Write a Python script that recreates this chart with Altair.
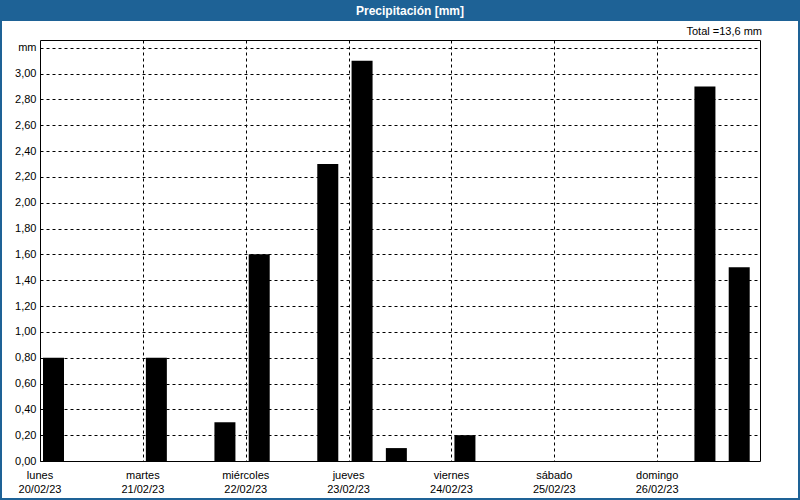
import altair as alt
import pandas as pd

# Data: 8-hour slots (start hour from Monday 00:00) and precipitation (mm)
slot_hours = [0, 24, 40, 48, 64, 72, 80, 96, 152, 160]
precip = [0.8, 0.8, 0.3, 1.6, 2.3, 3.1, 0.1, 0.2, 2.9, 1.5]

day_names = ["lunes", "martes", "miércoles", "jueves", "viernes", "sábado", "domingo"]
day_dates = ["20/02/23", "21/02/23", "22/02/23", "23/02/23", "24/02/23", "25/02/23", "26/02/23"]
day_hours = [0, 24, 48, 72, 96, 120, 144]

y_ticks = [0.0, 0.2, 0.4, 0.6, 0.8, 1.0, 1.2, 1.4, 1.6, 1.8, 2.0, 2.2, 2.4, 2.6, 2.8, 3.0, 3.2]

total = sum(precip)
total_text = "Total =" + f"{total:.1f}".replace(".", ",") + " mm"

FONT = "Liberation Sans"
BLUE = "#1e6296"
W, H = 720, 421

bars_df = pd.DataFrame({"h": slot_hours, "v": precip})
bars_df["h0"] = bars_df["h"] + 0.7
bars_df["h1"] = bars_df["h"] + 5.6

days_df = pd.DataFrame({"h": day_hours, "label": [f"{n}\n{d}" for n, d in zip(day_names, day_dates)]})

xscale = alt.Scale(domain=[0, 168], nice=False, zero=False)
yscale = alt.Scale(domain=[0, 3.26], nice=False)

ylabel = "datum.value > 3.1 ? 'mm' : replace(format(datum.value, '.2f'), '.', ',')"

bars = alt.Chart(bars_df).mark_rect(color="black").encode(
    x=alt.X("h0:Q", scale=xscale,
            axis=alt.Axis(values=[24, 48, 72, 96, 120, 144], labels=False, ticks=False,
                          domain=False, title=None, grid=True, gridColor="black",
                          gridDash=[3, 3], gridOpacity=1)),
    x2="h1:Q",
    y=alt.Y("v:Q", scale=yscale,
            axis=alt.Axis(values=y_ticks, labelExpr=ylabel, title=None, grid=True,
                          gridColor="black", gridDash=[3, 3], gridOpacity=1,
                          ticks=False, domain=False, labelPadding=4,
                          labelFont=FONT, labelFontSize=11, labelColor="black")),
    y2=alt.datum(0),
)

day_labels = alt.Chart(days_df).mark_text(
    font=FONT, fontSize=11, color="black", baseline="top", lineBreak="\n", lineHeight=14, align="center"
).encode(
    x=alt.X("h:Q", scale=xscale),
    y=alt.value(H + 9),
    text="label:N",
)

deco_df = pd.DataFrame({"k": [0]})
title_bar = alt.Chart(deco_df).mark_rect(color=BLUE).encode(
    x=alt.value(-40), x2=alt.value(W + 40), y=alt.value(-40), y2=alt.value(-19)
)
title_text = alt.Chart(deco_df).mark_text(
    text="Precipitación [mm]", font=FONT, fontSize=12, fontWeight="bold", color="white",
    align="center", baseline="middle"
).encode(x=alt.value(370), y=alt.value(-29.5))
total_txt = alt.Chart(deco_df).mark_text(
    text=total_text, font=FONT, fontSize=11, color="black", align="right", baseline="middle"
).encode(x=alt.value(W + 2), y=alt.value(-8))
frame = alt.Chart(deco_df).mark_rect(fill=None, stroke=BLUE, strokeWidth=2).encode(
    x=alt.value(-39), x2=alt.value(W + 39), y=alt.value(-39), y2=alt.value(H + 38)
)

chart = alt.layer(bars, day_labels, title_bar, title_text, total_txt, frame).properties(
    width=W, height=H,
    autosize=alt.AutoSizeParams(type="none"),
    padding={"left": 40, "top": 40, "right": 40, "bottom": 39},
    background="white",
).configure_view(stroke="black", strokeWidth=1)

chart.save("out.html", embed_options={"renderer": "svg", "actions": False})
